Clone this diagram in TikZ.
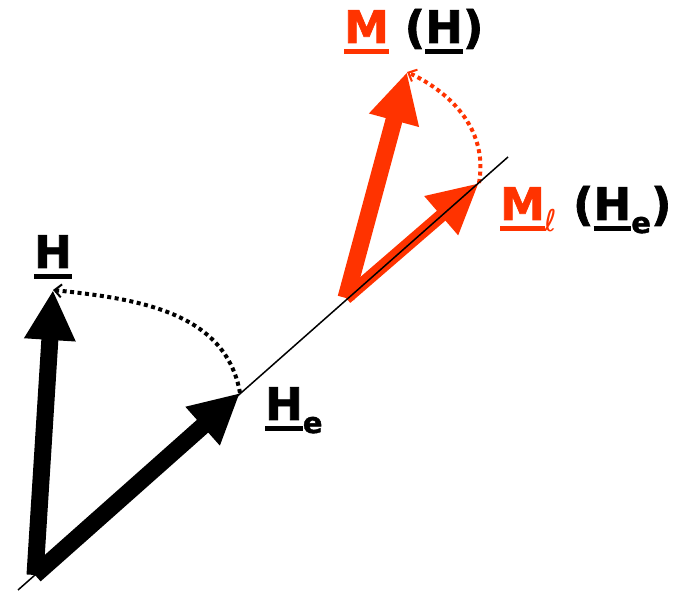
\documentclass[tikz,border=0pt]{standalone}
\usepackage{fontspec}
\setmainfont{DejaVu Sans}[BoldFeatures={FakeBold=1.5}]
\usetikzlibrary{arrows.meta}
\definecolor{mred}{HTML}{FF3300}
\newcommand{\uvec}[1]{\setbox0\hbox{#1}\rlap{\rule[-11pt]{\wd0}{4.5pt}}\box0}
\newcommand{\lowsub}[2]{\raisebox{-#1}{\fontsize{29}{31}\selectfont #2}}

\begin{document}
\begin{tikzpicture}[x=1pt,y=1pt,
    vec/.style={line width=17pt,-{Triangle[length=50pt,width=48pt]}},
    turn/.style={line width=4pt,dash pattern=on 4pt off 3.5pt,-{Straight Barb[length=7pt,width=13pt,line width=2pt]}},
    lbl/.style={anchor=base west,inner sep=0pt,font=\fontsize{45}{48}\selectfont\bfseries},
]
\useasboundingbox (0,0) rectangle (678,592);
\coordinate (L1) at (18,2);
\coordinate (L2) at (508,435);
\coordinate (O)  at (35,17);
\coordinate (He) at (240,199);
\coordinate (H)  at (53,302);
\coordinate (R)  at (346,294);
\coordinate (M)  at (407,520);
\coordinate (Ml) at (479,409);
% magnetisation
\draw[vec,mred] (R) -- (M);
\draw[vec,mred,line width=13pt] (R) -- (Ml);
\draw[turn,mred] (Ml) to[out=80,in=-25] (M);
% field
\draw[line width=1.5pt] (L1) -- (L2);
\draw[vec] (O) -- (He);
\draw[vec] (O) -- (H);
\draw[turn] (He) to[out=100,in=-6] (H);
% labels
\node[lbl] (tH)  at (34,324) {\uvec{H}};
\node[lbl] (tHe) at (265,172) {\uvec{H}\lowsub{13pt}{e}};
\node[lbl] (tM)  at (344,549) {\textcolor{mred}{\uvec{M}} (\uvec{H})};
\node[lbl] (tMl) at (500,372) {\textcolor{mred}{\uvec{M}\raisebox{-12pt}{\mdseries\fontsize{30}{32}\selectfont ℓ}} (\uvec{H}\lowsub{13pt}{e})};
\end{tikzpicture}
\end{document}
